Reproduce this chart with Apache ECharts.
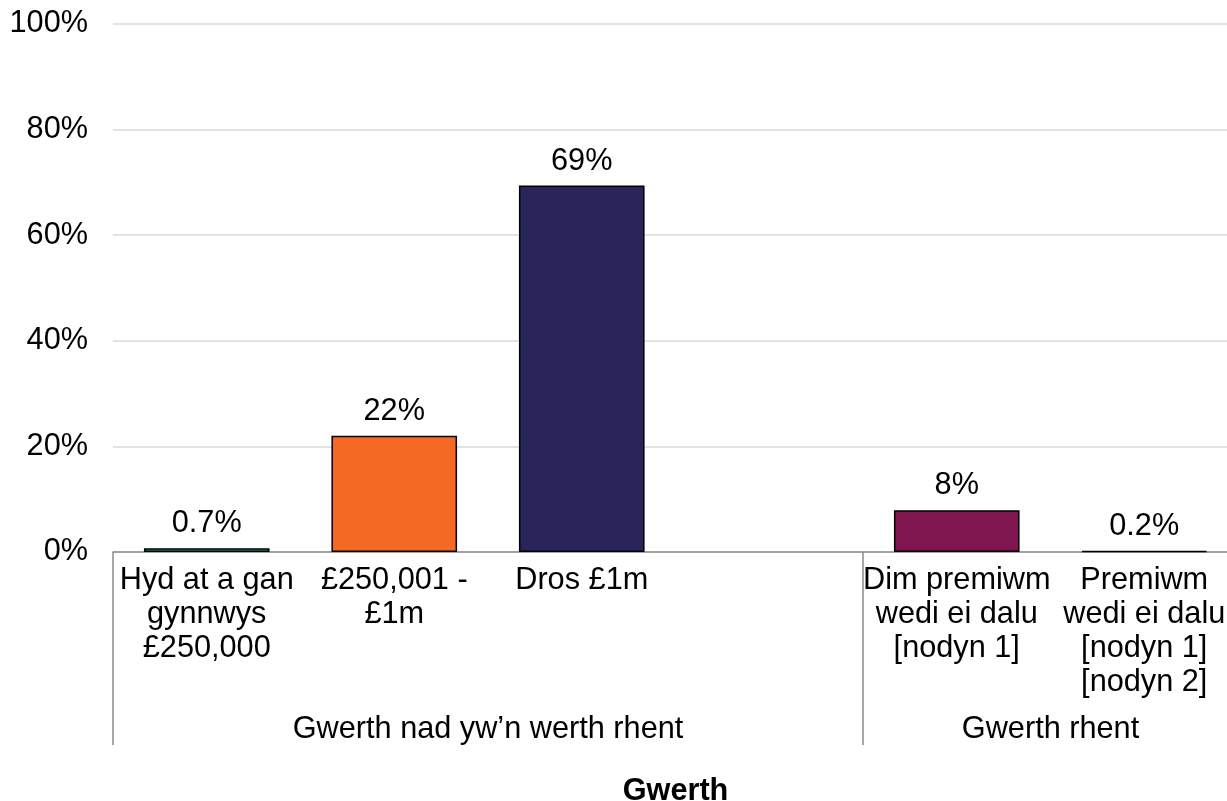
<!DOCTYPE html>
<html>
<head>
<meta charset="utf-8">
<script src="https://cdn.jsdelivr.net/npm/echarts@6/dist/echarts.min.js"></script>
<style>
html,body{margin:0;padding:0;background:#fff;overflow:hidden;}
#chart{width:1227px;height:801px;}
</style>
</head>
<body>
<div id="chart"></div>
<script>
// Data
const categories = ["Hyd at a gan\ngynnwys\n£250,000", "£250,001 -\n£1m", "Dros £1m", "", "Dim premiwm\nwedi ei dalu\n[nodyn 1]", "Premiwm\nwedi ei dalu\n[nodyn 1]\n[nodyn 2]"];
const values = [0.7, 22, 69.4, null, 7.9, 0.2];
const valueLabels = ["0.7%", "22%", "69%", "", "8%", "0.2%"];
const barColors = ["#28A197", "#F46A25", "#2A2559", "#ffffff", "#801650", "#3D3D3D"];
const groups = [
  { name: "Gwerth nad yw\u2019n werth rhent", start: 0, end: 3 },
  { name: "Gwerth rhent", start: 4, end: 5 }
];
const yTicks = [0, 20, 40, 60, 80, 100];
const axisTitle = "Gwerth";

const FONT = "Liberation Sans, Arial, sans-serif";
const FS = 30.7;
const chart = echarts.init(document.getElementById('chart'), null, { renderer: 'canvas' });

const option = {
  animation: false,
  backgroundColor: '#ffffff',
  grid: { left: 113, width: 1125, top: 24, bottom: 249, containLabel: false, outerBoundsMode: 'none' },
  xAxis: [{
    type: 'category',
    data: categories,
    axisLine: { show: true, lineStyle: { color: '#8c8c8c', width: 1.5 } },
    axisTick: {
      show: true,
      alignWithLabel: false,
      interval: function (i) { return groups.some(g => g.start === i); },
      length: 193,
      lineStyle: { color: '#8c8c8c', width: 1.5 }
    },
    axisLabel: {
      interval: 0,
      margin: 12,
      color: '#000',
      fontSize: FS,
      lineHeight: 34,
      fontFamily: FONT,
      align: 'center'
    },
    name: axisTitle,
    nameLocation: 'middle',
    nameGap: 224,
    nameTextStyle: { color: '#000', fontSize: FS, fontWeight: 'bold', fontFamily: FONT }
  }],
  yAxis: [{
    type: 'value',
    min: 0, max: 100, interval: 20,
    axisLine: { show: false },
    axisTick: { show: false },
    splitLine: { show: true, lineStyle: { color: '#d9d9d9', width: 1.5 } },
    axisLabel: {
      color: '#000', fontSize: FS, fontFamily: FONT, margin: 25,
      formatter: function (v) { return yTicks.includes(v) ? v + '%' : ''; }
    }
  }],
  series: [{
    type: 'bar',
    barWidth: '67%',
    data: values.map((v, i) => ({
      value: v,
      itemStyle: { color: barColors[i], borderColor: '#000', borderWidth: 1.5 }
    })),
    label: {
      show: true,
      position: 'top',
      distance: 9,
      color: '#000',
      fontSize: FS,
      fontFamily: FONT,
      formatter: function (p) { return valueLabels[p.dataIndex]; }
    }
  }]
};
chart.setOption(option);

// group (second-level) labels positioned via the category axis scale
function drawGroups() {
  const c0 = chart.convertToPixel({ xAxisIndex: 0 }, 0);
  const c1 = chart.convertToPixel({ xAxisIndex: 0 }, 1);
  const half = (c1 - c0) / 2;
  const y0 = chart.convertToPixel({ yAxisIndex: 0 }, 0);
  const els = groups.map(g => {
    const x0 = chart.convertToPixel({ xAxisIndex: 0 }, g.start) - half;
    const x1 = chart.convertToPixel({ xAxisIndex: 0 }, g.end) + half;
    return {
      type: 'text',
      x: (x0 + x1) / 2,
      y: y0 + 178,
      style: {
        text: g.name, fill: '#000', fontSize: FS, fontFamily: FONT,
        align: 'center', verticalAlign: 'middle'
      }
    };
  });
  chart.setOption({ graphic: els });
}
drawGroups();
</script>
</body>
</html>
